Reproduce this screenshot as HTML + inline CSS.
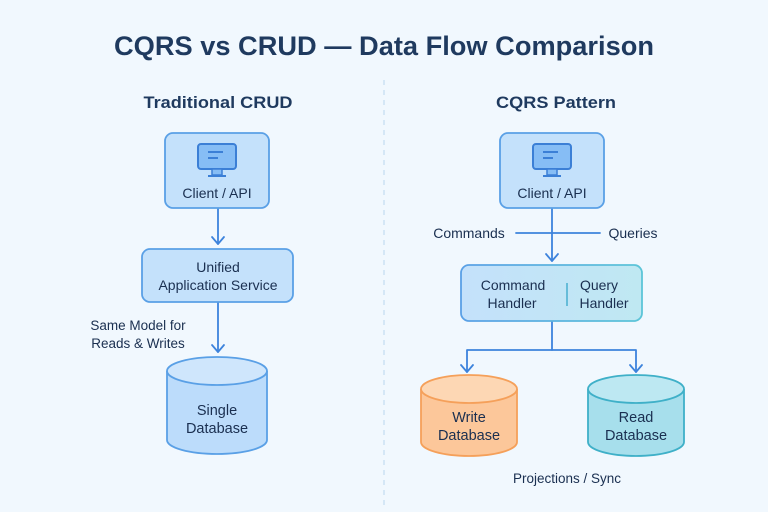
<!DOCTYPE html>
<html><head><meta charset="utf-8"><style>
html,body{margin:0;padding:0;background:#f1f8fe;}
svg{display:block;font-family:"Liberation Sans",sans-serif;}
</style></head><body>
<svg width="768" height="512" viewBox="0 0 768 512" xmlns="http://www.w3.org/2000/svg">
<defs>
<linearGradient id="hg" x1="0" x2="1"><stop offset="0" stop-color="#c4e1fb"/><stop offset="1" stop-color="#bfe8f2"/></linearGradient>
<linearGradient id="hs" x1="0" x2="1"><stop offset="0" stop-color="#5aa0e6"/><stop offset="1" stop-color="#5cc5d8"/></linearGradient>
<g id="icon">
<rect x="-19" y="-16" width="38" height="25" rx="3" fill="#86bdf5" stroke="#3b7fd6" stroke-width="2"/>
<line x1="-9" y1="-8" x2="6" y2="-8" stroke="#3b7fd6" stroke-width="2"/>
<line x1="-9" y1="-2" x2="1" y2="-2" stroke="#3b7fd6" stroke-width="2"/>
<rect x="-5" y="9" width="10" height="6" fill="#86bdf5" stroke="#3b7fd6" stroke-width="1.5"/>
<line x1="-9" y1="16" x2="9" y2="16" stroke="#3b7fd6" stroke-width="2"/>
</g>
</defs>
<rect width="768" height="512" fill="#f1f8fe"/>
<text x="384" y="55" text-anchor="middle" font-size="27" font-weight="bold" fill="#1f3a5f" textLength="540" lengthAdjust="spacingAndGlyphs">CQRS vs CRUD — Data Flow Comparison</text>
<line x1="384" y1="80" x2="384" y2="505" stroke="#b9d6ee" stroke-width="1" stroke-dasharray="5,5"/>
<text x="218" y="108" text-anchor="middle" font-size="17" font-weight="bold" fill="#1f3a5f" textLength="149" lengthAdjust="spacingAndGlyphs">Traditional CRUD</text>
<text x="556" y="108" text-anchor="middle" font-size="17" font-weight="bold" fill="#1f3a5f" textLength="120" lengthAdjust="spacingAndGlyphs">CQRS Pattern</text>

<g fill="none" stroke="#3d83dc" stroke-width="1.8" stroke-linecap="round" stroke-linejoin="round">
<line x1="218" y1="209" x2="218" y2="244"/>
<path d="M212,237 L218,244 L224,237"/>
<line x1="218" y1="302" x2="218" y2="352"/>
<path d="M212,345 L218,352 L224,345"/>
<line x1="552" y1="209" x2="552" y2="261"/>
<path d="M546,254 L552,261 L558,254"/>
<line x1="516" y1="233" x2="600" y2="233"/>
<line x1="552" y1="321" x2="552" y2="350"/>
<polyline points="467,372 467,350 636,350 636,372"/>
<path d="M461,365 L467,372 L473,365 M630,365 L636,372 L642,365"/>
</g>

<!-- Left -->
<rect x="165" y="133" width="104" height="75" rx="8" fill="#c4e1fb" stroke="#5aa0e6" stroke-width="1.8"/>
<use href="#icon" x="217" y="160"/>
<text x="217" y="198" text-anchor="middle" font-size="14" fill="#1a2f50">Client / API</text>
<rect x="142" y="249" width="151" height="53" rx="8" fill="#c4e1fb" stroke="#5aa0e6" stroke-width="1.8"/>
<text x="218" y="272" text-anchor="middle" font-size="14" fill="#1a2f50">Unified</text>
<text x="218" y="290" text-anchor="middle" font-size="14" fill="#1a2f50">Application Service</text>
<text x="138" y="330" text-anchor="middle" font-size="13.5" fill="#1a2f50">Same Model for</text>
<text x="138" y="348" text-anchor="middle" font-size="13.5" fill="#1a2f50">Reads &amp; Writes</text>
<path d="M167,371 L167,440 A50,14 0 0 0 267,440 L267,371" fill="#bcdcfb" stroke="#5aa0e6" stroke-width="1.8"/>
<ellipse cx="217" cy="371" rx="50" ry="14" fill="#cfe6fc" stroke="#5aa0e6" stroke-width="1.8"/>
<text x="217" y="415" text-anchor="middle" font-size="14.5" fill="#1a2f50">Single</text>
<text x="217" y="433" text-anchor="middle" font-size="14.5" fill="#1a2f50">Database</text>

<!-- Right -->
<rect x="500" y="133" width="104" height="75" rx="8" fill="#c4e1fb" stroke="#5aa0e6" stroke-width="1.8"/>
<use href="#icon" x="552" y="160"/>
<text x="552" y="198" text-anchor="middle" font-size="14" fill="#1a2f50">Client / API</text>
<text x="469" y="238" text-anchor="middle" font-size="14" fill="#1a2f50">Commands</text>
<text x="633" y="238" text-anchor="middle" font-size="14" fill="#1a2f50">Queries</text>
<rect x="461" y="265" width="181" height="56" rx="8" fill="url(#hg)" stroke="url(#hs)" stroke-width="1.8"/>
<line x1="567" y1="283" x2="567" y2="306" stroke="#5cb8d6" stroke-width="1.8"/>
<text x="513" y="290" text-anchor="middle" font-size="14" fill="#1a2f50">Command</text>
<text x="512" y="308" text-anchor="middle" font-size="14" fill="#1a2f50">Handler</text>
<text x="599" y="290" text-anchor="middle" font-size="14" fill="#1a2f50">Query</text>
<text x="604" y="308" text-anchor="middle" font-size="14" fill="#1a2f50">Handler</text>
<path d="M421,389 L421,442 A48,14 0 0 0 517,442 L517,389" fill="#fcc79a" stroke="#f5a05a" stroke-width="1.8"/>
<ellipse cx="469" cy="389" rx="48" ry="14" fill="#fdd7b4" stroke="#f5a05a" stroke-width="1.8"/>
<text x="469" y="422" text-anchor="middle" font-size="14.5" fill="#1a2f50">Write</text>
<text x="469" y="440" text-anchor="middle" font-size="14.5" fill="#1a2f50">Database</text>
<path d="M588,389 L588,442 A48,14 0 0 0 684,442 L684,389" fill="#a7dfec" stroke="#3fb0c8" stroke-width="1.8"/>
<ellipse cx="636" cy="389" rx="48" ry="14" fill="#bde8f2" stroke="#3fb0c8" stroke-width="1.8"/>
<text x="636" y="422" text-anchor="middle" font-size="14.5" fill="#1a2f50">Read</text>
<text x="636" y="440" text-anchor="middle" font-size="14.5" fill="#1a2f50">Database</text>
<text x="567" y="483" text-anchor="middle" font-size="13.5" fill="#1a2f50">Projections / Sync</text>
</svg>
</body></html>
